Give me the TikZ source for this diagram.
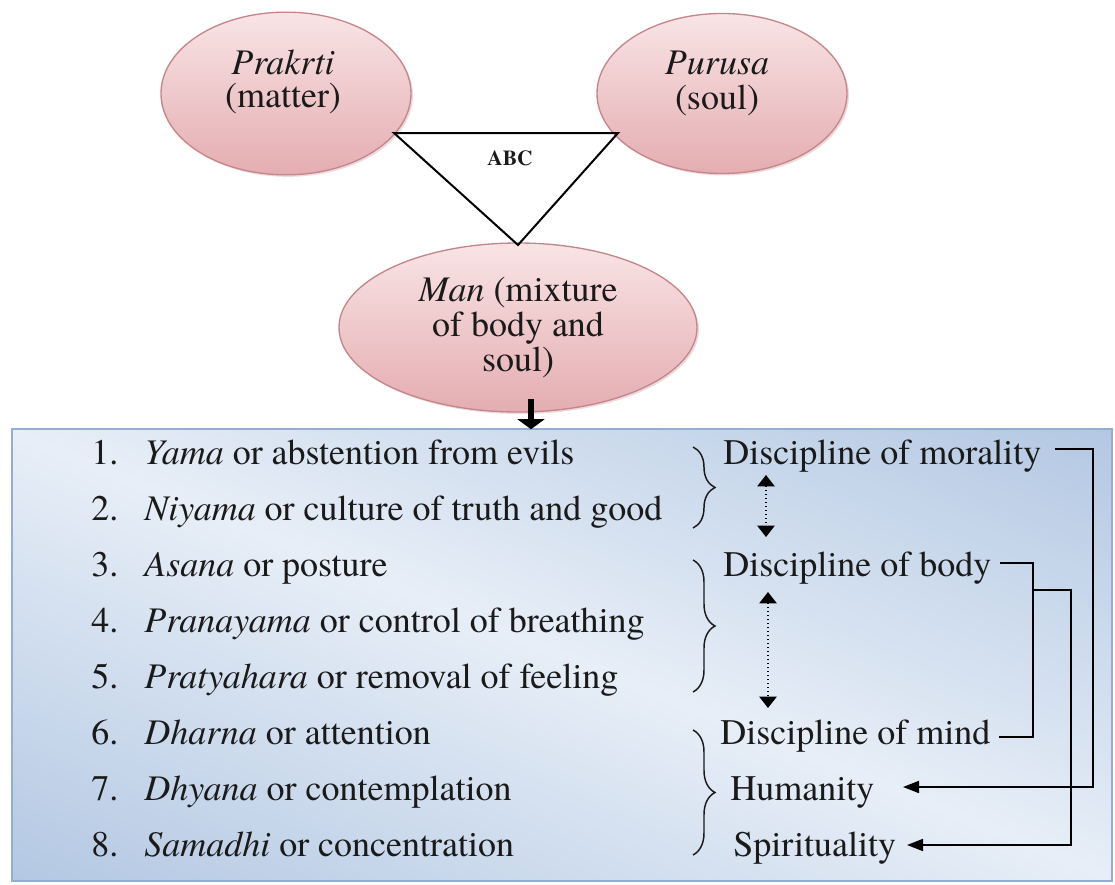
\documentclass[tikz,border=0pt]{standalone}
\usepackage{fontspec}
\setmainfont{TeX Gyre Termes}
\usetikzlibrary{arrows.meta,shapes.geometric,decorations.pathreplacing,shadows}
\definecolor{txt}{HTML}{1A1A1A}
\definecolor{pinktop}{HTML}{F9E4E5}
\definecolor{pinkbot}{HTML}{E4ADB1}
\definecolor{pinkedge}{HTML}{C4868B}
\definecolor{bdark}{HTML}{9FB9DB}
\definecolor{blight}{HTML}{E7EEF7}
\definecolor{bedge}{HTML}{93AED2}
\pgfdeclareverticalshading{boxsh}{100bp}{color(0bp)=(bdark); color(26bp)=(bdark); color(50bp)=(blight); color(74bp)=(bdark); color(100bp)=(bdark)}
\begin{document}
\begin{tikzpicture}[x=0.75pt,y=-0.75pt,
  every node/.style={text=txt,inner sep=0pt},
  ell/.style={ellipse, draw=pinkedge, line width=1pt, top color=pinktop, bottom color=pinkbot,
    drop shadow={shadow xshift=1.5pt,shadow yshift=-1.5pt,opacity=0.3,fill=pinkedge}},
  big/.style={font=\fontsize{27}{26.25}\selectfont},
  item/.style={big, anchor=base west},
  conn/.style={line width=1.3pt, draw=black},
  arr/.style={conn, -{Triangle[length=12pt,width=9pt]}},
  dotarr/.style={line width=1pt, dotted, {Triangle[length=8.5pt,width=13pt]}-{Triangle[length=8.5pt,width=13pt]}},
  br/.style={decorate, decoration={brace, amplitude=16.5pt}, line width=1.1pt, draw=txt},
  tri/.style={line width=1.5pt, draw=black},
]
\useasboundingbox (0,0) rectangle (1115,885);

% upper ellipses
\node[ell, minimum width=187.5pt, minimum height=122pt] (prak) at (286,93.5) {};
\node[big, align=center] (prakt) at (283,82) {\textit{Prakrti}\\[-1.5pt](matter)};
\node[ell, minimum width=187.5pt, minimum height=120pt] (puru) at (722,93.5) {};
\node[big, align=center] (purut) at (717,83) {\textit{Purusa}\\(soul)};
\node[ell, big, align=center, minimum width=268.5pt, minimum height=126.75pt] (man) at (518,327.5)
  {\textit{Man} (mixture\\of body and\\soul)};

% triangle
\coordinate (tl) at (394,133);
\coordinate (tr) at (618,133);
\coordinate (tb) at (518,245);
\draw[tri] (tl) -- (tr) -- (tb) -- cycle;
\node[font=\fontsize{16}{16}\selectfont\bfseries] (abc) at (510,158) {ABC};

% box
\node[minimum width=825pt, minimum height=338.25pt] (box) at (562,655) {};
\begin{scope}
  \clip (box.north west) rectangle (box.south east);
  \shade[shading=boxsh, shading angle=-22] (-38,55) rectangle (1162,1255);
\end{scope}
\draw[draw=bedge, line width=1.2pt] (box.north west) rectangle (box.south east);

% arrow from Man to box
\coordinate (as) at (531,399);
\draw[line width=5pt, -{Triangle[length=7.5pt,width=20pt]}] (as) -- (as |- box.north);

% list
\node[item] (n1) at (91,464) {1.};
\node[item] (t1) at (144,464) {\textit{Yama} or abstention from evils};
\node[item] (n2) at (91,520) {2.};
\node[item] (t2) at (144,520) {\textit{Niyama} or culture of truth and good};
\node[item] (n3) at (91,576) {3.};
\node[item] (t3) at (144,576) {\textit{Asana} or posture};
\node[item] (n4) at (91,632) {4.};
\node[item] (t4) at (144,632) {\textit{Pranayama} or control of breathing};
\node[item] (n5) at (91,688) {5.};
\node[item] (t5) at (144,688) {\textit{Pratyahara} or removal of feeling};
\node[item] (n6) at (91,744) {6.};
\node[item] (t6) at (144,744) {\textit{Dharna} or attention};
\node[item] (n7) at (91,800) {7.};
\node[item] (t7) at (144,800) {\textit{Dhyana} or contemplation};
\node[item] (n8) at (91,856) {8.};
\node[item] (t8) at (144,856) {\textit{Samadhi} or concentration};

% braces
\draw[br] (693,447) -- (693,528);
\draw[br] (693,560) -- (693,692);
\draw[br] (693,730) -- (693,855);

% right labels
\node[item] (mor) at (723,464) {Discipline of morality};
\node[item] (bod) at (723,576) {Discipline of body};
\node[item] (mnd) at (720,744) {Discipline of mind};
\node[item] (hum) at (730,800) {Humanity};
\node[item] (spi) at (733,856) {Spirituality};

% dotted arrows
\coordinate (d1a) at (766,475);
\coordinate (d1b) at (766,537);
\draw[dotarr] (d1a) -- (d1b);
\coordinate (d2a) at (768,592);
\coordinate (d2b) at (768,708);
\draw[dotarr] (d2a) -- (d2b);

% connectors
\coordinate (m0) at (1055,449);
\coordinate (m1) at (1093,449);
\coordinate (m2) at (1093,787);
\coordinate (m3) at (903,787);
\draw[arr] (m0) -- (m1) -- (m2) -- (m3);
\coordinate (b0) at (1000,563);
\coordinate (b1) at (1033,563);
\coordinate (b2) at (1033,737);
\coordinate (b3) at (999,737);
\draw[conn] (b0) -- (b1) -- (b2) -- (b3);
\coordinate (s0) at (1033,590);
\coordinate (s1) at (1071,590);
\coordinate (s2) at (1071,845);
\coordinate (s3) at (907,845);
\draw[arr] (s0) -- (s1) -- (s2) -- (s3);
\end{tikzpicture}
\end{document}
